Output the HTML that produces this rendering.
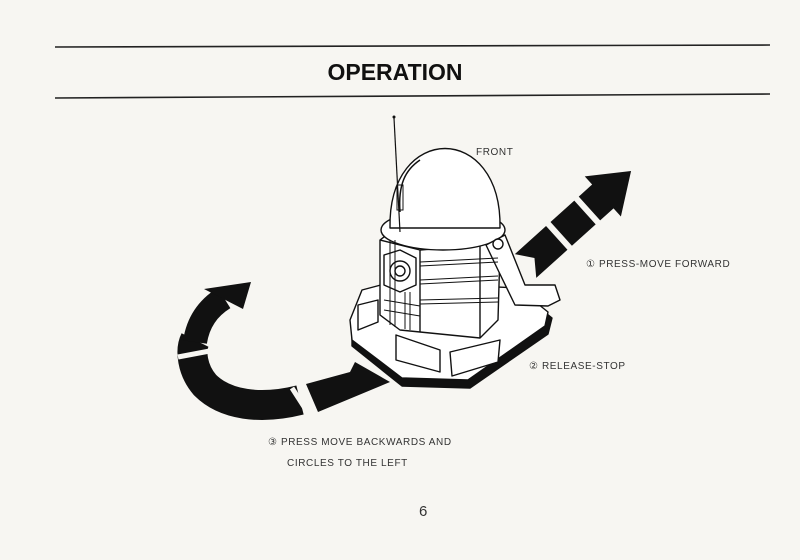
<!DOCTYPE html>
<html><head><style>
html,body{margin:0;padding:0;background:#f7f6f2;}
body{width:800px;height:560px;position:relative;overflow:hidden;font-family:"Liberation Sans",sans-serif;}
.t{position:absolute;font-size:10px;letter-spacing:0.6px;color:#333;white-space:nowrap;}
</style></head><body>
<svg width="800" height="560" style="position:absolute;left:0;top:0">
<line x1="55" y1="47" x2="770" y2="45" stroke="#222" stroke-width="1.6"/>
<line x1="55" y1="98" x2="770" y2="94" stroke="#222" stroke-width="1.6"/>
<text x="395" y="80" text-anchor="middle" font-family="Liberation Sans" font-weight="bold" font-size="23" fill="#111">OPERATION</text>

<!-- forward arrow -->
<g transform="translate(530,262) rotate(-42)" fill="#111">
 <polygon points="-6,-16 36,-16 36,16 -6,16 6,0"/>
 <rect x="42" y="-16" width="32" height="32"/>
 <polygon points="80,-16 98,-16 98,-27 136,0 98,27 98,16 80,16"/>
</g>

<!-- back arrow -->
<path d="M300,400 C260,410 225,405 205,385 C192,370 190,350 195,340" fill="none" stroke="#111" stroke-width="30"/>
<path d="M195,342 C198,322 208,308 224,298" fill="none" stroke="#111" stroke-width="24"/>
<polygon points="204,289 251,282 243,309" fill="#111"/>
<polygon points="306,384 350,372 355,362 390,382 318,412" fill="#111"/>
<line x1="178" y1="357" x2="215" y2="350" stroke="#f7f6f2" stroke-width="5"/>
<line x1="292" y1="388" x2="310" y2="416" stroke="#f7f6f2" stroke-width="5"/>

<!-- robot -->
<g fill="#fff" stroke="#111" stroke-width="1.4" stroke-linejoin="round">
 <polygon points="352,328 364,295 392,286 520,292 552,318 548,334 470,388 402,386 352,346" fill="#111"/>
 <polygon points="350,320 362,290 392,282 518,288 548,312 545,326 468,380 402,378 352,340"/>
 <polygon points="380,240 400,225 480,232 500,250 498,320 480,338 400,330 380,315"/>
 <polyline points="380,240 420,250 480,245" fill="none"/>
 <line x1="420" y1="250" x2="420" y2="332"/>
 <line x1="480" y1="245" x2="480" y2="338"/>
 <ellipse cx="443" cy="230" rx="62" ry="20"/>
 <path d="M390,228 C388,122 502,122 500,228 Z"/>
 <polygon points="384,255 400,250 416,258 416,285 400,292 384,285"/>
 <circle cx="400" cy="271" r="10"/>
 <circle cx="400" cy="271" r="5"/>
 <path d="M486,245 L505,235 L525,285 L555,285 L560,300 L548,306 L515,305 L498,270 Z"/>
 <circle cx="498" cy="244" r="5"/>
 <polygon points="396,335 440,350 440,372 396,360"/>
 <polygon points="450,352 500,340 498,362 452,376"/>
 <polygon points="358,305 378,300 378,322 358,330"/>
</g>
<g stroke="#111" stroke-width="1" fill="none">
 <line x1="420" y1="262" x2="498" y2="258"/><line x1="420" y1="266" x2="498" y2="262"/>
 <line x1="420" y1="280" x2="498" y2="276"/><line x1="420" y1="284" x2="498" y2="280"/>
 <line x1="420" y1="300" x2="498" y2="298"/><line x1="420" y1="304" x2="498" y2="302"/>
 <line x1="384" y1="300" x2="420" y2="306"/><line x1="384" y1="310" x2="420" y2="316"/>
 <line x1="390" y1="240" x2="390" y2="325"/><line x1="395" y1="240" x2="395" y2="327"/>
 <line x1="405" y1="292" x2="405" y2="329"/><line x1="410" y1="292" x2="410" y2="330"/>
 <line x1="394" y1="118" x2="400" y2="232" stroke-width="1.2"/>
 <path d="M400,212 C398,185 405,170 420,160" stroke-width="1.5"/>
 <rect x="397" y="185" width="6" height="25"/>
</g>
<circle cx="394" cy="117" r="1.5" fill="#111"/>
</svg>
<div class="t" style="left:476px;top:147px;">FRONT</div>
<div class="t" style="left:586px;top:259px;">① PRESS-MOVE FORWARD</div>
<div class="t" style="left:529px;top:361px;">② RELEASE-STOP</div>
<div class="t" style="left:268px;top:437px;">③ PRESS MOVE BACKWARDS AND</div>
<div class="t" style="left:287px;top:458px;">CIRCLES TO THE LEFT</div>
<div class="t" style="left:419px;top:503px;font-size:15px;">6</div>
</body></html>
